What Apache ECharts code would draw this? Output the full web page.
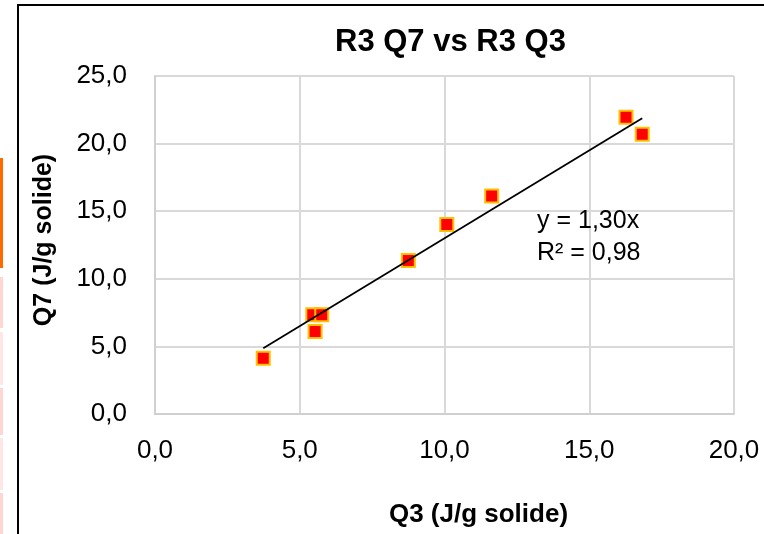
<!DOCTYPE html>
<html>
<head>
<meta charset="utf-8">
<script src="https://cdn.jsdelivr.net/npm/echarts@6/dist/echarts.min.js"></script>
<style>
  html, body { margin: 0; padding: 0; background: #fff; }
  #chart { width: 764px; height: 534px; }
</style>
</head>
<body>
<div id="chart"></div>
<script>
// points Q3 / Q7 (J/g solide)
var q3 = [3.74, 5.45, 5.76, 5.53, 8.75, 10.08, 11.63, 16.27, 16.83];
var q7 = [4.13, 7.34, 7.34, 6.11, 11.35, 14.02, 16.12, 21.94, 20.70];
// linear trend through origin
var slope = 1.30;
var r2 = 0.98;
var xTicks = [0, 5, 10, 15, 20];
var yTicks = [0, 5, 10, 15, 20, 25];

var fmt = function (v) { return v.toFixed(1).replace('.', ','); };

var points = q3.map(function (x, i) { return [x, q7[i]]; });
var xmin = Math.min.apply(null, q3), xmax = Math.max.apply(null, q3);
var trend = [[xmin, slope * xmin], [xmax, slope * xmax]];

var chart = echarts.init(document.getElementById('chart'));
var font = '"Liberation Sans", Arial, sans-serif';
var option = {
    backgroundColor: '#fff',
    animation: false,
    textStyle: { fontFamily: font },
    title: {
        text: 'R3 Q7 vs R3 Q3',
        left: 330, top: 22,
        textStyle: { fontSize: 31, fontWeight: 'bold', color: '#000', fontFamily: font }
    },
    grid: { left: 155, top: 76, right: 30, bottom: 120 },
    xAxis: {
        type: 'value', min: xTicks[0], max: xTicks[xTicks.length - 1], interval: 5,
        name: 'Q3 (J/g solide)', nameLocation: 'middle', nameGap: 88,
        nameTextStyle: { fontSize: 26, fontWeight: 'bold', color: '#000', padding: [0, 0, 0, 68] },
        axisLine: { show: true, lineStyle: { color: '#d0d0d0', width: 2 } },
        axisTick: { show: false },
        splitLine: { show: true, lineStyle: { color: '#d9d9d9', width: 2 } },
        axisLabel: { formatter: fmt, fontSize: 26, color: '#000', margin: 24 }
    },
    yAxis: {
        type: 'value', min: yTicks[0], max: yTicks[yTicks.length - 1], interval: 5,
        name: 'Q7 (J/g solide)', nameLocation: 'middle', nameGap: 98,
        nameTextStyle: { fontSize: 25, fontWeight: 'bold', color: '#000', padding: [0, 0, 0, 10] },
        axisLine: { show: true, lineStyle: { color: '#d0d0d0', width: 2 } },
        axisTick: { show: false },
        splitLine: { show: true, lineStyle: { color: '#d9d9d9', width: 2 } },
        axisLabel: { formatter: fmt, fontSize: 26, color: '#000', margin: 28 }
    },
    series: [
        {
            type: 'line', data: trend, symbol: 'none', silent: true,
            lineStyle: { color: '#000', width: 1.8 }, z: 3
        },
        {
            type: 'scatter', data: points, symbol: 'rect', symbolSize: 13,
            itemStyle: { color: '#ff0000', borderColor: '#ffc000', borderWidth: 2, opacity: 1 }, z: 2
        }
    ],
    graphic: [
        { type: 'rect', shape: { x: 18, y: 5, width: 800, height: 600 }, style: { fill: 'none', stroke: '#000', lineWidth: 2 } },
        { type: 'rect', shape: { x: 0, y: 158, width: 3, height: 110 }, style: { fill: '#ff6a00' } },
        { type: 'rect', shape: { x: 0, y: 277, width: 3, height: 51 }, style: { fill: '#ffd6d2' } },
        { type: 'rect', shape: { x: 0, y: 332, width: 3, height: 53 }, style: { fill: '#ffe6e4' } },
        { type: 'rect', shape: { x: 0, y: 388, width: 3, height: 47 }, style: { fill: '#ffd6d2' } },
        { type: 'rect', shape: { x: 0, y: 438, width: 3, height: 52 }, style: { fill: '#ffe6e4' } },
        { type: 'rect', shape: { x: 0, y: 493, width: 3, height: 41 }, style: { fill: '#ffd6d2' } },
        {
            type: 'text', left: 537, top: 205, z: 10,
            style: {
                text: 'y = ' + slope.toFixed(2).replace('.', ',') + 'x\nR² = ' + r2.toFixed(2).replace('.', ','),
                font: '25px ' + font, fill: '#000', lineHeight: 32
            }
        }
    ]
};
chart.setOption(option);
</script>
</body>
</html>
